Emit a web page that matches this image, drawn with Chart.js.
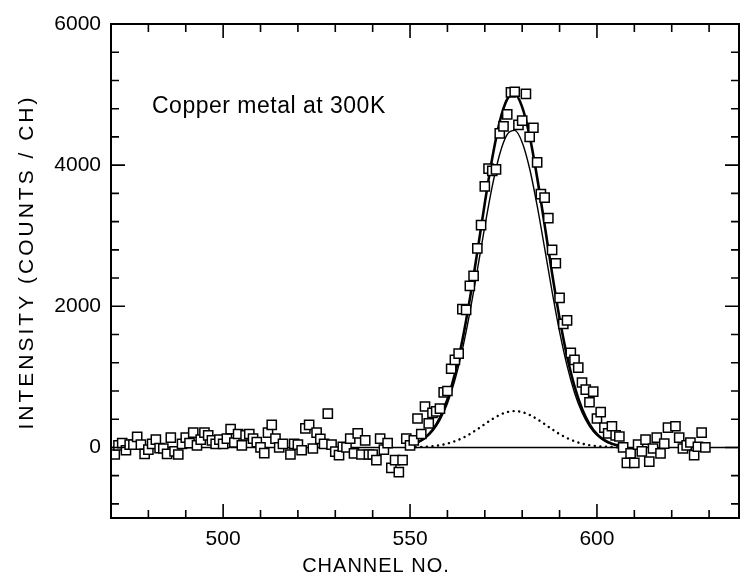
<!DOCTYPE html>
<html>
<head>
<meta charset="utf-8">
<script src="https://cdn.jsdelivr.net/npm/chart.js@4/dist/chart.umd.min.js"></script>
<style>
html,body{margin:0;padding:0;background:#fff}
</style>
</head>
<body>
<canvas id="myChart" width="747" height="582"></canvas>
<script>
// measured points (channel, counts)
const channels = [
  471,472,473,474,475,476,477,478,479,480,481,482,483,484,485,486,487,488,489,490,
  491,492,493,494,495,496,497,498,499,500,501,502,503,504,505,506,507,508,509,510,
  511,512,513,514,515,516,518,519,520,521,522,523,524,525,526,527,528,529,530,531,
  532,533,534,535,536,537,538,539,540,541,542,543,544,545,546,547,548,549,550,551,
  552,553,554,555,556,557,558,559,560,561,562,563,564,565,566,567,568,569,570,571,
  572,573,574,575,576,577,578,579,580,581,582,583,584,585,586,587,588,589,590,591,
  592,593,594,595,596,597,598,599,600,601,602,603,604,605,606,607,608,609,610,611,
  612,613,614,615,616,617,618,619,621,622,623,624,625,626,627,628,629
]
const counts = [
  -100,30,60,-40,40,40,150,40,-90,-30,50,110,-10,-15,-90,140,-55,-100,50,140,
  60,210,30,110,210,170,100,50,110,50,125,260,70,190,30,170,190,125,75,0,
  -80,210,320,125,0,50,-100,50,40,-40,270,320,-15,210,120,50,480,40,-60,-110,
  10,0,125,-85,200,-100,100,-100,-100,-180,125,-30,60,-290,-180,-350,-180,125,30,100,
  410,190,580,340,490,510,550,780,800,1115,1240,1330,1960,1950,2290,2430,2820,3150,3700,3950,
  3920,3940,4450,4550,4720,5030,5040,4570,4630,5010,4400,4530,4040,3590,3540,3250,2800,2610,2120,1750,
  1800,1340,1240,1130,920,820,640,790,410,500,280,200,300,170,155,0,-220,-85,-220,40,
  -55,110,-200,-15,140,-85,55,280,300,140,-15,30,70,-110,10,210,0
]

// fitted curves
const fitChannels = [550,552,554,556,558,560,562,564,566,568,570,572,574,576,578,
  580,582,584,586,588,590,592,594,596,598,600,602,604,606,608]
const fitTotal = [36,72,138,246,420,679,1043,1520,2105,2771,3462,4103,4619,4936,5008,
  4823,4410,3826,3154,2467,1831,1291,864,549,331,189,103,53,26,12]
const fitMain = [34,67,128,228,388,624,955,1387,1915,2513,3131,3702,4158,4435,4493,
  4322,3949,3425,2823,2209,1641,1158,776,494,299,171,93,48,24,11]
const fitSmall = [2,5,10,18,32,55,88,133,190,258,331,401,461,501,515,
  501,461,401,331,258,190,133,88,55,32,18,10,5,2,1]

const baseChannels = [470, 638]
const baseCounts = [0, 0]

const xTickLabels = [500, 550, 600]
const yTickLabels = [0, 2000, 4000, 6000]

const pts = (xs, ys) => xs.map((x, i) => ({x, y: ys[i]}))

const ctx = document.getElementById('myChart').getContext('2d')

const frame = {
  id: 'frame',
  afterDatasetsDraw(chart) {
    const {ctx, chartArea: a, scales} = chart
    const xs = scales.x, ys = scales.y
    ctx.save()
    ctx.strokeStyle = '#000'
    ctx.lineWidth = 1.6
    ctx.beginPath()
    for (let v = 470; v <= 638; v += 10) {
      const px = xs.getPixelForValue(v)
      const len = v % 50 === 0 ? 14 : 8
      ctx.moveTo(px, a.bottom); ctx.lineTo(px, a.bottom - len)
      ctx.moveTo(px, a.top); ctx.lineTo(px, a.top + len)
    }
    for (let v = -800; v <= 6000; v += 400) {
      const py = ys.getPixelForValue(v)
      const len = v % 2000 === 0 ? 14 : 8
      ctx.moveTo(a.left, py); ctx.lineTo(a.left + len, py)
      ctx.moveTo(a.right, py); ctx.lineTo(a.right - len, py)
    }
    ctx.stroke()
    ctx.lineWidth = 2
    ctx.strokeRect(a.left, a.top, a.right - a.left, a.bottom - a.top)

    ctx.fillStyle = '#000'
    ctx.font = '23px "Liberation Sans", Arial, sans-serif'
    ctx.letterSpacing = '0.5px'
    ctx.textAlign = 'left'
    ctx.textBaseline = 'alphabetic'
    ctx.fillText('Copper metal at 300K', 152, 113)

    ctx.textAlign = 'center'
    ctx.textBaseline = 'middle'
    ctx.font = '20px "Liberation Sans", Arial, sans-serif'
    ctx.letterSpacing = '1px'
    ctx.fillText('CHANNEL NO.', 376, 566)
    ctx.font = '21px "Liberation Sans", Arial, sans-serif'
    ctx.letterSpacing = '3px'
    ctx.translate(27, 262)
    ctx.rotate(-Math.PI / 2)
    ctx.fillText('INTENSITY (COUNTS / CH)', 0, 0)
    ctx.restore()
  }
}

const config = {
  type: 'scatter',
  data: {
    datasets: [
      {
        data: pts(channels, counts),
        pointStyle: 'rect',
        pointRadius: 6.5,
        pointBackgroundColor: '#fff',
        pointBorderColor: '#000',
        pointBorderWidth: 1.5,
        order: 0
      },
      {
        data: pts(fitChannels, fitTotal),
        showLine: true, pointRadius: 0,
        borderColor: '#000', borderWidth: 2.6,
        cubicInterpolationMode: 'monotone',
        order: 1
      },
      {
        data: pts(fitChannels, fitMain),
        showLine: true, pointRadius: 0,
        borderColor: '#000', borderWidth: 1.4,
        cubicInterpolationMode: 'monotone',
        order: 2
      },
      {
        data: pts(fitChannels, fitSmall),
        showLine: true, pointRadius: 0,
        borderColor: '#000', borderWidth: 2.4,
        borderDash: [0.1, 5.5], borderCapStyle: 'round',
        cubicInterpolationMode: 'monotone',
        order: 3
      },
      {
        data: pts(baseChannels, baseCounts),
        showLine: true, pointRadius: 0,
        borderColor: '#000', borderWidth: 1.4,
        order: 4
      }
    ]
  },
  options: {
    responsive: false,
    animation: false,
    layout: {padding: {top: 24, right: 1, left: 0, bottom: 0}},
    plugins: {legend: {display: false}, tooltip: {enabled: false}},
    scales: {
      x: {
        type: 'linear', min: 470, max: 638,
        grid: {display: false, drawTicks: false},
        border: {display: false},
        afterBuildTicks: s => { s.ticks = xTickLabels.map(v => ({value: v})) },
        afterFit: s => { s.height = 64 },
        ticks: {
          padding: 9, color: '#000', maxRotation: 0,
          font: {family: '"Liberation Sans", Arial, sans-serif', size: 21},
          callback: v => String(v)
        }
      },
      y: {
        min: -1000, max: 6000,
        grid: {display: false, drawTicks: false},
        border: {display: false},
        afterBuildTicks: s => { s.ticks = yTickLabels.map(v => ({value: v})) },
        afterFit: s => { s.width = 111 },
        ticks: {
          padding: 10, color: '#000',
          font: {family: '"Liberation Sans", Arial, sans-serif', size: 21},
          callback: v => String(v)
        }
      }
    }
  },
  plugins: [frame]
}

const myChart = new Chart(ctx, config)
</script>
</body>
</html>
